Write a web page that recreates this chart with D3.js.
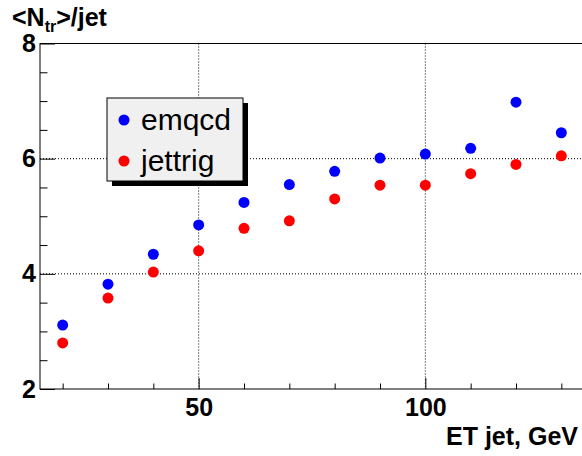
<!DOCTYPE html>
<html lang="en">
  <head>
    <meta charset="utf-8">
    <title></title>
    <script src="https://d3js.org/d3.v7.min.js"></script>
    <style type="text/css">
      body { margin: 0; background: #fff; }
      text { font-family: "Liberation Sans", Arial, sans-serif; }
    </style>
  </head>
  <body>

  <svg width="582" height="456" id="svg1"></svg>

  <script>
    // ET jet bins (GeV) and mean track multiplicity per jet
    var etJet   = [20, 30, 40, 50, 60, 70, 80, 90, 100, 110, 120, 130];
    var emqcd   = [3.11, 3.82, 4.34, 4.85, 5.24, 5.55, 5.78, 6.01, 6.08, 6.18, 6.98, 6.45];
    var jettrig = [2.80, 3.58, 4.03, 4.40, 4.79, 4.92, 5.30, 5.54, 5.54, 5.74, 5.90, 6.05];

    var xMajor = [50, 100];
    var xMinor = [20, 30, 40, 60, 70, 80, 90, 110, 120, 130];
    var yMajor = [2, 4, 6, 8];
    var yMinor = [2.5, 3, 3.5, 4.5, 5, 5.5, 6.5, 7, 7.5];

    var series = [
      {name: "emqcd", values: emqcd, color: "#0000ff"},
      {name: "jettrig", values: jettrig, color: "#ff0000"}
    ];

    var svg = d3.select("#svg1");
    var margin = {top: 43.5, right: -2, bottom: 67, left: 40};
    var width = svg.attr("width") - margin.left - margin.right;
    var height = svg.attr("height") - margin.top - margin.bottom;
    var g = svg.append("g").attr("transform", `translate(${margin.left}, ${margin.top})`);

    var xScale = d3.scaleLinear().domain([15, 135]).range([0, width]);
    var yScale = d3.scaleLinear().domain([2, 8]).range([height, 0]);

    // dotted grid at major ticks
    g.append("g").selectAll("line").data(xMajor).enter().append("line")
      .attr("x1", d => xScale(d)).attr("x2", d => xScale(d))
      .attr("y1", 0).attr("y2", height)
      .attr("stroke", "#000").attr("stroke-width", 1).attr("stroke-dasharray", "1,2");
    g.append("g").selectAll("line").data([4, 6]).enter().append("line")
      .attr("x1", 0).attr("x2", width)
      .attr("y1", d => yScale(d)).attr("y2", d => yScale(d))
      .attr("stroke", "#000").attr("stroke-width", 1).attr("stroke-dasharray", "1,2");

    // axes, ticks pointing inside the frame
    var xAxis = d3.axisBottom(xScale).tickValues(xMajor).tickSizeInner(-11).tickSizeOuter(0).tickPadding(9);
    var xAxisMinor = d3.axisBottom(xScale).tickValues(xMinor).tickSizeInner(-5.5).tickSizeOuter(0).tickFormat("");
    var yAxis = d3.axisLeft(yScale).tickValues(yMajor).tickFormat(d3.format("d"))
      .tickSizeInner(-15).tickSizeOuter(0).tickPadding(4);
    var yAxisMinor = d3.axisLeft(yScale).tickValues(yMinor).tickSizeInner(-7.5).tickSizeOuter(0).tickFormat("");

    g.append("g").attr("transform", `translate(0, ${height})`).call(xAxis);
    g.append("g").attr("transform", `translate(0, ${height})`).call(xAxisMinor);
    g.append("g").call(yAxis);
    g.append("g").call(yAxisMinor);

    g.selectAll(".tick text")
      .attr("font-family", "Liberation Sans, Arial, sans-serif")
      .attr("font-size", 25).attr("font-weight", "bold").attr("fill", "#000");
    g.selectAll(".domain").remove();

    // frame
    g.append("rect").attr("x", 0).attr("y", 0).attr("width", width).attr("height", height)
      .attr("fill", "none").attr("stroke", "#000").attr("stroke-width", 1);

    // points
    series.forEach(function(s) {
      g.append("g").selectAll("circle").data(s.values).enter().append("circle")
        .attr("cx", function(d, i) { return xScale(etJet[i]); })
        .attr("cy", function(d) { return yScale(d); })
        .attr("r", 5.5)
        .attr("fill", s.color);
    });

    // legend with drop shadow
    var leg = svg.append("g").attr("transform", "translate(107, 98)");
    leg.append("rect").attr("x", 5).attr("y", 5).attr("width", 136).attr("height", 83).attr("fill", "#000");
    leg.append("rect").attr("x", 0).attr("y", 0).attr("width", 136).attr("height", 83)
      .attr("fill", "#f0f0f0").attr("stroke", "#000").attr("stroke-width", 1);
    series.forEach(function(s, i) {
      leg.append("circle").attr("cx", 17).attr("cy", 22 + i * 41).attr("r", 5.5).attr("fill", s.color);
      leg.append("text").attr("x", 34).attr("y", 32 + i * 41)
        .attr("font-size", 30).attr("fill", "#000").text(s.name);
    });

    // axis titles
    var title = svg.append("text").attr("x", 12).attr("y", 26)
      .attr("font-size", 25).attr("font-weight", "bold");
    title.append("tspan").text("<N");
    title.append("tspan").attr("font-size", 16).attr("dy", 6).text("tr");
    title.append("tspan").attr("dy", -6).text(">/jet");

    svg.append("text").attr("x", 578).attr("y", 445).attr("text-anchor", "end")
      .attr("font-size", 25).attr("font-weight", "bold").text("ET jet, GeV");
  </script>

  </body>
</html>
